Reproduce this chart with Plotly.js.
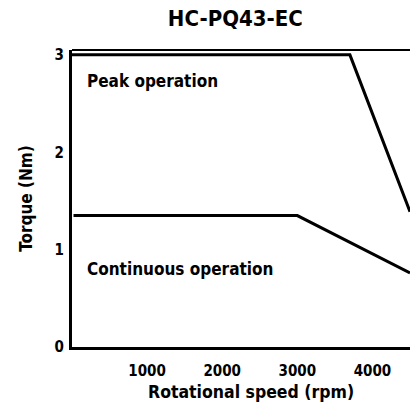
<!DOCTYPE html>
<html>
<head>
<meta charset="utf-8">
<script src="https://cdn.plot.ly/plotly-3.0.1.min.js"></script>
<style>
html,body{margin:0;padding:0;background:#fff;}
#chart{width:410px;height:403px;}
</style>
</head>
<body>
<div id="chart"></div>
<script>
const peakSpeed = [0, 3700, 4500];
const peakTorque = [3, 3, 1.39];
const contSpeed = [20, 3000, 4500];
const contTorque = [1.35, 1.35, 0.76];
const xTicks = [1000, 2000, 3000, 4000];
const yTicks = [0, 1, 2, 3];
const titleText = 'HC-PQ43-EC';
const xTitle = 'Rotational speed (rpm)';
const yTitle = 'Torque (Nm)';
const peakLabel = 'Peak operation';
const contLabel = 'Continuous operation';

const FONT = '"Liberation Sans Narrow", "DejaVu Sans Condensed", "DejaVu Sans", sans-serif';

const traces = [
  {x: peakSpeed, y: peakTorque, mode: 'lines', line: {color: '#000', width: 3}, hoverinfo: 'skip'},
  {x: contSpeed, y: contTorque, mode: 'lines', line: {color: '#000', width: 3}, hoverinfo: 'skip'}
];

const layout = {
  width: 410, height: 403,
  margin: {l: 72, r: 0, t: 50, b: 56},
  paper_bgcolor: '#fff', plot_bgcolor: '#fff',
  showlegend: false,
  font: {family: FONT, color: '#000', weight: 'bold'},
  title: {text: titleText, font: {family: FONT, size: 22, weight: 'bold', color: '#000'}, x: 0.574, xanchor: 'center', y: 0.955, yanchor: 'middle'},
  xaxis: {
    range: [0, 4500], tickvals: xTicks, ticktext: xTicks.map(String),
    showgrid: false, zeroline: false, showline: true, linecolor: '#000', linewidth: 3,
    ticks: '', ticklabelstandoff: 8,
    tickfont: {family: FONT, size: 15, weight: 'bold', color: '#000'},
    fixedrange: true
  },
  yaxis: {
    range: [0, 3.05], tickvals: yTicks, ticktext: yTicks.map(String),
    showgrid: false, zeroline: false, showline: true, linecolor: '#000', linewidth: 3,
    ticks: '', ticklabelstandoff: 2,
    tickfont: {family: FONT, size: 15, weight: 'bold', color: '#000'},
    title: {text: yTitle, standoff: 18, font: {family: FONT, size: 17, weight: 'bold', color: '#000'}},
    fixedrange: true
  },
  shapes: [
    {type: 'line', xref: 'paper', yref: 'paper', x0: 0, x1: 1, y0: 1, y1: 1, line: {color: '#000', width: 2}}
  ],
  annotations: [
    {text: peakLabel, x: 0.038, y: 2.73, xref: 'paper', yref: 'y', xanchor: 'left', yanchor: 'middle', showarrow: false,
     font: {family: FONT, size: 17, weight: 'bold', color: '#000'}},
    {text: contLabel, x: 0.038, y: 0.8, xref: 'paper', yref: 'y', xanchor: 'left', yanchor: 'middle', showarrow: false,
     font: {family: FONT, size: 17, weight: 'bold', color: '#000'}},
    {text: xTitle, x: 0.53, y: -0.15, xref: 'paper', yref: 'paper', xanchor: 'center', yanchor: 'middle', showarrow: false,
     font: {family: FONT, size: 17.5, weight: 'bold', color: '#000'}}
  ]
};

Plotly.newPlot('chart', traces, layout, {staticPlot: true, displayModeBar: false});
</script>
</body>
</html>
